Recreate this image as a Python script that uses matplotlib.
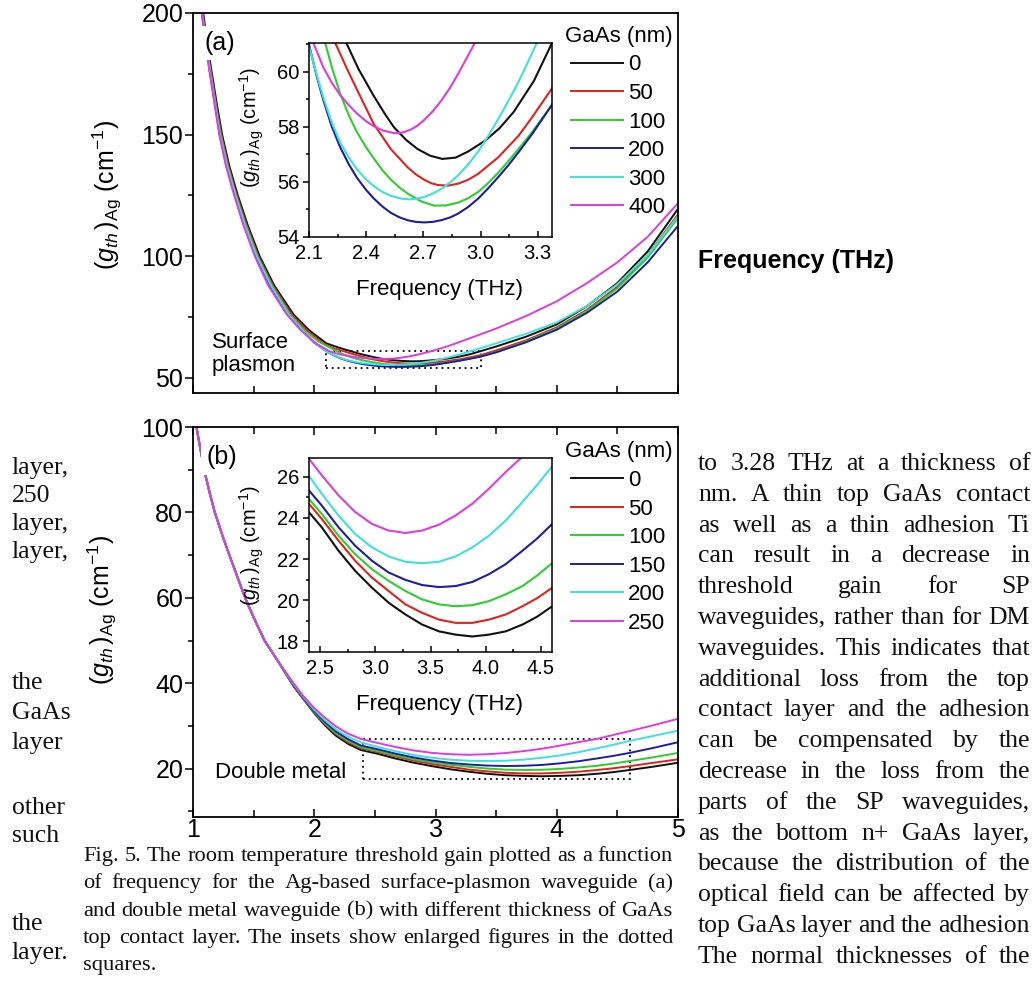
import matplotlib
matplotlib.use("Agg")
import matplotlib.pyplot as plt
from matplotlib.patches import Rectangle
from matplotlib.ticker import MultipleLocator, FormatStrFormatter

plt.rcParams['font.family'] = ['Liberation Sans', 'DejaVu Sans']
plt.rcParams['mathtext.fontset'] = 'custom'
plt.rcParams['mathtext.rm'] = 'Liberation Sans'
plt.rcParams['mathtext.it'] = 'Liberation Sans:italic'
plt.rcParams['mathtext.bf'] = 'Liberation Sans:bold'

# ---------------------------------------------------------------- data
sp_labels = ['0', '50', '100', '200', '300', '400']
dm_labels = ['0', '50', '100', '150', '200', '250']
curve_colors = ['#111111', '#e2231a', '#2ccf2c', '#1d1da6', '#3ee0e0', '#e03be0']

# (a) surface-plasmon waveguide, GaAs thickness 0/50/100/200/300/400 nm
sp_freq_0 = [1.085, 1.115, 1.15, 1.195, 1.24, 1.30, 1.37, 1.45, 1.55, 1.67, 1.83, 1.96, 2.10, 2.20,
             2.296, 2.36, 2.44, 2.50, 2.546, 2.61, 2.67, 2.735, 2.80, 2.87, 2.935, 3.025, 3.10,
             3.175, 3.28, 3.375, 3.5, 3.75, 4.0, 4.25, 4.5, 4.75, 5.0]
sp_gain_0 = [200, 188, 177, 163, 150, 137, 125, 113, 100, 88, 76, 69.5, 64.2, 62.5,
             61.05, 60.1, 59.12, 58.45, 57.98, 57.52, 57.19, 56.95, 56.83, 56.88, 57.1, 57.5, 57.95,
             58.55, 59.67, 61.05, 62.9, 67.0, 72.0, 79.5, 89.0, 102.0, 119.5]
sp_freq_50 = [1.08, 1.109, 1.145, 1.189, 1.233, 1.293, 1.362, 1.441, 1.54, 1.66, 1.815, 1.94, 2.07,
              2.15, 2.238, 2.30, 2.352, 2.44, 2.529, 2.617, 2.66, 2.705, 2.74, 2.776, 2.83, 2.882,
              2.935, 2.988, 3.093, 3.199, 3.27, 3.375, 3.5, 3.75, 4.0, 4.25, 4.5, 4.75, 5.0]
sp_gain_50 = [200, 188, 177, 163, 150, 137, 125, 113, 100, 88, 76, 69.5, 64.3, 62.4, 61.05, 60.1,
              59.35, 58.10, 57.19, 56.53, 56.27, 56.07, 55.95, 55.88, 55.86, 55.93, 56.07, 56.29,
              56.89, 57.67, 58.34, 59.4, 61.3, 65.5, 70.8, 78.0, 87.5, 100.5, 117.2]
sp_freq_100 = [1.077, 1.106, 1.14, 1.184, 1.227, 1.286, 1.355, 1.433, 1.532, 1.65, 1.80, 1.92, 2.04,
               2.12, 2.185, 2.225, 2.264, 2.31, 2.352, 2.40, 2.44, 2.485, 2.529, 2.573, 2.617, 2.69,
               2.758, 2.82, 2.882, 2.935, 2.988, 3.04, 3.093, 3.146, 3.199, 3.27, 3.375, 3.5, 3.75,
               4.0, 4.25, 4.5, 4.75, 5.0]
sp_gain_100 = [200, 188, 177, 163, 150, 137, 125, 113, 100, 88, 76, 69.5, 64.8, 62.7, 61.05, 60.05,
               59.2, 58.4, 57.8, 57.25, 56.85, 56.42, 56.08, 55.8, 55.57, 55.28, 55.13, 55.14, 55.24,
               55.4, 55.63, 55.95, 56.33, 56.75, 57.19, 57.80, 58.8, 60.6, 65.0, 70.3, 77.5, 86.8,
               99.5, 115.8]
sp_freq_200 = [1.074, 1.104, 1.135, 1.18, 1.22, 1.277, 1.345, 1.423, 1.52, 1.635, 1.785, 1.89, 2.0,
               2.1, 2.14, 2.176, 2.22, 2.264, 2.31, 2.352, 2.40, 2.44, 2.485, 2.529, 2.573, 2.617,
               2.66, 2.705, 2.75, 2.794, 2.84, 2.882, 2.935, 2.988, 3.04, 3.093, 3.146, 3.199, 3.27,
               3.375, 3.5, 3.75, 4.0, 4.25, 4.5, 4.75, 5.0]
sp_gain_200 = [200, 188, 177, 163, 150, 137, 125, 113, 100, 88, 76, 70, 64.5, 61.0, 59.85, 58.95,
               58.0, 57.25, 56.62, 56.14, 55.7, 55.39, 55.1, 54.87, 54.71, 54.6, 54.54, 54.52, 54.54,
               54.6, 54.7, 54.84, 55.08, 55.39, 55.76, 56.17, 56.6, 57.07, 57.73, 58.8, 60.5, 64.7,
               69.8, 76.8, 85.5, 97.5, 112.5]
sp_freq_300 = [1.075, 1.105, 1.137, 1.181, 1.223, 1.281, 1.35, 1.427, 1.525, 1.642, 1.79, 1.895,
               2.005, 2.1, 2.14, 2.176, 2.22, 2.264, 2.31, 2.352, 2.40, 2.44, 2.485, 2.529, 2.58,
               2.626, 2.665, 2.705, 2.75, 2.794, 2.84, 2.882, 2.935, 2.988, 3.04, 3.093, 3.146,
               3.199, 3.245, 3.295, 3.5, 3.75, 4.0, 4.25, 4.5, 4.75, 5.0]
sp_gain_300 = [200, 188, 177, 163, 150, 137, 125, 113, 100, 88, 76, 70, 64.5, 60.93, 59.9, 59.05,
               58.15, 57.42, 56.87, 56.45, 56.08, 55.84, 55.63, 55.49, 55.39, 55.36, 55.38, 55.45,
               55.57, 55.74, 55.97, 56.23, 56.63, 57.1, 57.66, 58.28, 58.94, 59.63, 60.3, 61.05,
               64.2, 68.2, 72.8, 79.6, 88.5, 100.5, 116.5]
sp_freq_400 = [1.072, 1.101, 1.133, 1.176, 1.217, 1.272, 1.34, 1.414, 1.51, 1.62, 1.775, 1.89, 2.02,
               2.123, 2.176, 2.22, 2.264, 2.31, 2.352, 2.40, 2.44, 2.49, 2.546, 2.59, 2.635, 2.67,
               2.705, 2.75, 2.794, 2.84, 2.882, 2.925, 2.97, 3.1, 3.25, 3.5, 3.75, 4.0, 4.25, 4.5,
               4.75, 5.0]
sp_gain_400 = [200, 188, 177, 163, 150, 137, 125, 113, 100, 88, 76, 69.5, 64.0, 61.05, 60.15, 59.6,
               59.15, 58.78, 58.48, 58.2, 58.02, 57.86, 57.77, 57.79, 57.9, 58.05, 58.25, 58.57,
               58.95, 59.42, 59.92, 60.47, 61.05, 63.0, 65.7, 70.3, 75.5, 81.5, 89.0, 97.5, 108.0,
               121.8]

# (b) double-metal waveguide, GaAs thickness 0/50/100/150/200/250 nm
dm_freq = [1.028, 1.06, 1.10, 1.14, 1.18, 1.24, 1.30, 1.365, 1.43, 1.51, 1.59, 1.70, 1.83, 1.91,
           2.0, 2.09, 2.18, 2.28, 2.385, 2.515, 2.667, 2.818, 2.970, 3.121, 3.273, 3.424, 3.576,
           3.727, 3.879, 4.030, 4.182, 4.333, 4.465, 4.6, 4.8, 5.0]
dm_gain_0 = [100, 95, 89, 84.3, 80, 74.8, 70, 65, 60, 54.8, 50, 45.2, 39.3, 36.3, 33.0, 30.1, 27.7,
             25.8, 24.37, 23.55, 22.41, 21.43, 20.61, 19.88, 19.31, 18.82, 18.49, 18.33, 18.24,
             18.33, 18.49, 18.82, 19.2, 19.7, 20.5, 21.4]
dm_gain_50 = [100, 95, 89, 84.3, 80, 74.8, 70, 65, 60, 54.8, 50, 45.2, 39.4, 36.4, 33.2, 30.4, 28.1,
              26.2, 24.78, 23.96, 22.90, 21.92, 21.10, 20.45, 19.80, 19.39, 19.06, 18.90, 18.90,
              19.06, 19.31, 19.71, 20.1, 20.6, 21.4, 22.2]
dm_gain_100 = [100, 95, 89, 84.3, 80, 74.8, 70, 65, 60, 54.8, 50, 45.2, 39.5, 36.5, 33.3, 30.6,
               28.3, 26.5, 25.02, 24.20, 23.14, 22.24, 21.51, 20.94, 20.45, 20.04, 19.80, 19.71,
               19.76, 19.96, 20.29, 20.69, 21.2, 21.8, 22.7, 23.7]
dm_gain_150 = [100, 95, 89, 84.3, 80, 74.8, 70, 65, 60, 54.8, 50, 45.2, 39.6, 36.6, 33.5, 30.9,
               28.7, 26.9, 25.43, 24.61, 23.55, 22.65, 21.92, 21.35, 20.99, 20.74, 20.64, 20.69,
               20.89, 21.27, 21.76, 22.41, 23.0, 23.7, 24.9, 26.2]
dm_gain_200 = [100, 95, 89, 84.3, 80, 74.8, 70, 65, 60, 54.8, 50, 45.2, 39.8, 36.8, 33.8, 31.3,
               29.2, 27.5, 26.16, 25.18, 24.12, 23.22, 22.57, 22.13, 21.87, 21.80, 21.87, 22.13,
               22.57, 23.14, 23.88, 24.78, 25.6, 26.5, 27.7, 28.9]
dm_gain_250 = [100, 95, 89, 84.3, 80, 74.8, 70, 65, 60, 54.8, 50, 45.2, 40.0, 37.0, 34.2, 31.9,
               29.9, 28.2, 26.98, 26.08, 25.10, 24.29, 23.71, 23.39, 23.27, 23.39, 23.67, 24.12,
               24.69, 25.43, 26.24, 26.98, 27.9, 28.8, 30.2, 31.7]

# inset (zoom) windows
sp_zoom_x = [2.1, 3.375]
sp_zoom_y = [54.0, 61.05]
dm_zoom_x = [2.4, 4.6]
dm_zoom_y = [17.5, 26.9]

# surrounding page text
right_column = [
    "to 3.28 THz at a thickness of",
    "nm. A thin top GaAs contact",
    "as well as a thin adhesion Ti",
    "can result in a decrease in",
    "threshold gain for SP",
    "waveguides, rather than for DM",
    "waveguides. This indicates that",
    "additional loss from the top",
    "contact layer and the adhesion",
    "can be compensated by the",
    "decrease in the loss from the",
    "parts of the SP waveguides,",
    "as the bottom n+ GaAs layer,",
    "because the distribution of the",
    "optical field can be affected by",
    "top GaAs layer and the adhesion",
    "The normal thicknesses of the",
]
left_column = [("layer,", 467), ("250", 495), ("layer,", 523), ("layer,", 551),
               ("the", 682), ("GaAs", 712), ("layer", 742), ("other", 807), ("such", 835),
               ("the", 923), ("layer.", 952)]
caption_lines = [
    "Fig. 5. The room temperature threshold gain plotted as a function",
    "of frequency for the Ag-based surface-plasmon waveguide (a)",
    "and double metal waveguide (b) with different thickness of GaAs",
    "top contact layer. The insets show enlarged figures in the dotted",
    "squares.",
]

# ---------------------------------------------------------------- layout
W, H = 1036, 982
fig = plt.figure(figsize=(W / 100, H / 100), dpi=100)


def box(l, t, r, b):
    return [l / W, 1 - b / H, (r - l) / W, (b - t) / H]


ax_a = fig.add_axes(box(193, 13, 678, 393))
ax_b = fig.add_axes(box(193, 427, 678, 817))
ins_a = fig.add_axes(box(309, 43, 552, 236.7))
ins_b = fig.add_axes(box(309, 458.3, 552, 651.7))

ylab = r'$(g_{th}\,)_{\mathrm{Ag}}\ (\mathrm{cm}^{-1})$'

sp_series = [(sp_freq_0, sp_gain_0), (sp_freq_50, sp_gain_50), (sp_freq_100, sp_gain_100),
             (sp_freq_200, sp_gain_200), (sp_freq_300, sp_gain_300), (sp_freq_400, sp_gain_400)]
dm_series = [dm_gain_0, dm_gain_50, dm_gain_100, dm_gain_150, dm_gain_200, dm_gain_250]


def style(ax, big, lab, maj, mnr, pad_x, pad_y):
    for s in ax.spines.values():
        s.set_linewidth(1.3 if big else 1.1)
    ax.tick_params(axis='x', which='both', direction='in', top=False, pad=pad_x)
    ax.tick_params(axis='y', which='both', direction='out', right=False, pad=pad_y)
    ax.tick_params(which='major', length=maj, width=1.1, labelsize=lab)
    ax.tick_params(which='minor', length=mnr, width=1.1)


legend_kw = dict(title='GaAs (nm)', frameon=False, fontsize=16, title_fontsize=16,
                 loc='upper right', borderpad=0, borderaxespad=0, handlelength=2.3,
                 handletextpad=0.25, labelspacing=0.34)

# ---- panel (a)
handles = []
for (fx, gy), c, lab in zip(sp_series, curve_colors, sp_labels):
    h, = ax_a.plot(fx, gy, color=c, lw=1.4, label=lab, zorder=2)
    handles.append(h)
    ins_a.plot(fx, gy, color=c, lw=1.5)
ax_a.set_xlim(1, 5)
ax_a.set_ylim(43.8, 200)
ax_a.xaxis.set_major_locator(MultipleLocator(1))
ax_a.xaxis.set_minor_locator(MultipleLocator(0.5))
ax_a.yaxis.set_major_locator(MultipleLocator(50))
ax_a.yaxis.set_minor_locator(MultipleLocator(25))
style(ax_a, True, 18, 5.5, 3.5, 1, 1.5)
ax_a.tick_params(axis='x', which='minor', length=5)
ax_a.tick_params(labelbottom=False)
ax_a.add_patch(Rectangle((sp_zoom_x[0], sp_zoom_y[0]), sp_zoom_x[1] - sp_zoom_x[0],
                         sp_zoom_y[1] - sp_zoom_y[0], fill=False, ec='k', lw=1.3,
                         ls=(0, (1, 2.2)), zorder=1))
ax_a.set_ylabel(ylab, fontsize=18)
ax_a.yaxis.set_label_coords((124 - 193) / 485, (393 - 195) / 380)
ax_a.set_xlabel('Frequency (THz)', fontsize=18, fontweight='bold')
ax_a.xaxis.set_label_coords((796 - 193) / 485, (393 - 249) / 380)
ax_a.text((205 - 193) / 485, (393 - 43) / 380, '(a)', transform=ax_a.transAxes, fontsize=18,
          ha='left', va='center', zorder=5, bbox=dict(fc='white', ec='none', pad=3.5))
ax_a.text((212 - 193) / 485, (393 - 354) / 380, 'Surface\nplasmon', transform=ax_a.transAxes,
          fontsize=16, ha='left', va='center', linespacing=1.15)
ax_a.legend(handles=handles, labels=sp_labels, bbox_to_anchor=(0.988, 0.966), **legend_kw)

ins_a.set_xlim(*sp_zoom_x)
ins_a.set_ylim(*sp_zoom_y)
ins_a.xaxis.set_major_locator(MultipleLocator(0.3))
ins_a.xaxis.set_minor_locator(MultipleLocator(0.15))
ins_a.xaxis.set_major_formatter(FormatStrFormatter('%.1f'))
ins_a.yaxis.set_major_locator(MultipleLocator(2))
ins_a.yaxis.set_minor_locator(MultipleLocator(1))
style(ins_a, False, 14.5, 4, 2.5, 5, 3)
ins_a.set_xlabel('Frequency (THz)', fontsize=16)
ins_a.xaxis.set_label_coords((439 - 309) / 243, (236.7 - 279) / 193.7)
ins_a.set_ylabel(ylab, fontsize=14.5)
ins_a.yaxis.set_label_coords((266 - 309) / 243, (236.7 - 128) / 193.7)

# ---- panel (b)
handles = []
for gy, c, lab in zip(dm_series, curve_colors, dm_labels):
    h, = ax_b.plot(dm_freq, gy, color=c, lw=1.4, label=lab, zorder=2)
    handles.append(h)
    ins_b.plot(dm_freq, gy, color=c, lw=1.5)
ax_b.set_xlim(1, 5)
ax_b.set_ylim(8.7, 100)
ax_b.xaxis.set_major_locator(MultipleLocator(1))
ax_b.xaxis.set_minor_locator(MultipleLocator(0.5))
ax_b.xaxis.set_major_formatter(FormatStrFormatter('%d'))
ax_b.yaxis.set_major_locator(MultipleLocator(20))
ax_b.yaxis.set_minor_locator(MultipleLocator(10))
style(ax_b, True, 18, 5.5, 3.5, 0.5, 1.5)
ax_b.tick_params(axis='x', which='both', top=True)
ax_b.tick_params(axis='x', which='minor', length=5)
ax_b.add_patch(Rectangle((dm_zoom_x[0], dm_zoom_y[0]), dm_zoom_x[1] - dm_zoom_x[0],
                         dm_zoom_y[1] - dm_zoom_y[0], fill=False, ec='k', lw=1.3,
                         ls=(0, (1, 2.2)), zorder=1))
ax_b.set_ylabel(ylab, fontsize=18)
ax_b.yaxis.set_label_coords((119 - 193) / 485, (817 - 610) / 390)
ax_b.text((207 - 193) / 485, (817 - 457) / 390, '(b)', transform=ax_b.transAxes, fontsize=18,
          ha='left', va='center', zorder=5, bbox=dict(fc='white', ec='none', pad=4.5))
ax_b.text((215 - 193) / 485, (817 - 773) / 390, 'Double metal', transform=ax_b.transAxes,
          fontsize=16, ha='left', va='center')
ax_b.legend(handles=handles, labels=dm_labels, bbox_to_anchor=(0.988, 0.963), **legend_kw)

ins_b.set_xlim(*dm_zoom_x)
ins_b.set_ylim(*dm_zoom_y)
ins_b.xaxis.set_major_locator(MultipleLocator(0.5))
ins_b.xaxis.set_minor_locator(MultipleLocator(0.25))
ins_b.xaxis.set_major_formatter(FormatStrFormatter('%.1f'))
ins_b.yaxis.set_major_locator(MultipleLocator(2))
ins_b.yaxis.set_minor_locator(MultipleLocator(1))
style(ins_b, False, 14.5, 4, 2.5, 5, 3)
ins_b.set_xlabel('Frequency (THz)', fontsize=16)
ins_b.xaxis.set_label_coords((439 - 309) / 243, (651.7 - 694) / 193.4)
ins_b.set_ylabel(ylab, fontsize=14.5)
ins_b.yaxis.set_label_coords((266 - 309) / 243, (651.7 - 546) / 193.4)

# ---------------------------------------------------------------- page text
renderer = fig.canvas.get_renderer()


def text_width(s, **kw):
    t = fig.text(0, 0, s, **kw)
    w = t.get_window_extent(renderer).width
    t.remove()
    return w


def place_line(line, x0, x1, baseline, justify=True, **kw):
    words = line.split()
    widths = [text_width(w, **kw) for w in words]
    if justify and len(words) > 1:
        gap = (x1 - x0 - sum(widths)) / (len(words) - 1)
    else:
        gap = text_width('a a', **kw) - 2 * text_width('a', **kw)
    x = x0
    for w, wd in zip(words, widths):
        fig.text(x / W, 1 - baseline / H, w, ha='left', va='baseline', **kw)
        x += wd + gap


body_kw = dict(family='Liberation Serif', fontsize=18.5, color='#111111')
cap_kw = dict(family='Liberation Serif', fontsize=16.2, color='#111111')

for i, line in enumerate(right_column):
    place_line(line, 698, 1030, 470 + 30.8 * i, justify=True, **body_kw)

for word, yc in left_column:
    place_line(word, 12, 80, yc + 7, justify=False, **body_kw)

for i, line in enumerate(caption_lines):
    place_line(line, 83, 673, 861 + 27.3 * i, justify=(i < len(caption_lines) - 1), **cap_kw)

fig.savefig('out.png', dpi=100)
